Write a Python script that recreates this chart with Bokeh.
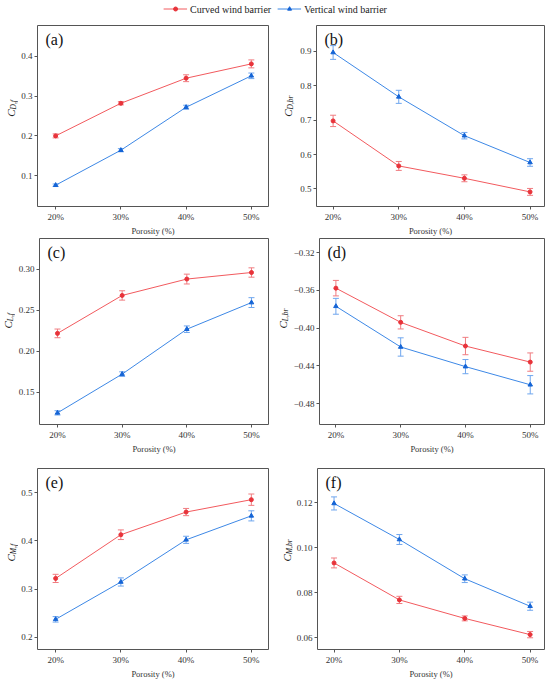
import math
from bokeh.plotting import figure
from bokeh.models import (Range1d, FixedTicker, Whisker, TeeHead, ColumnDataSource,
                          Label, Legend, LegendItem)
from bokeh.core.properties import value
from bokeh.layouts import column, row
from bokeh.embed import file_html
from bokeh.resources import INLINE

# ---------------- data ----------------
porosity = [20, 30, 40, 50]
porosity_labels = ["20%", "30%", "40%", "50%"]

# (a) C_D,f
cdf_curved = [0.200, 0.282, 0.345, 0.381]
cdf_curved_err = [0.005, 0.004, 0.0086, 0.010]
cdf_vertical = [0.076, 0.164, 0.272, 0.351]
cdf_vertical_err = [0.003, 0.004, 0.005, 0.007]
cdf_ticks = [0.1, 0.2, 0.3, 0.4]
cdf_tick_labels = ["0.1", "0.2", "0.3", "0.4"]

# (b) C_D,br
cdbr_curved = [0.698, 0.567, 0.531, 0.4915]
cdbr_curved_err = [0.0165, 0.013, 0.010, 0.010]
cdbr_vertical = [0.897, 0.768, 0.655, 0.577]
cdbr_vertical_err = [0.020, 0.019, 0.0094, 0.011]
cdbr_ticks = [0.5, 0.6, 0.7, 0.8, 0.9]
cdbr_tick_labels = ["0.5", "0.6", "0.7", "0.8", "0.9"]

# (c) C_L,f
clf_curved = [0.2217, 0.268, 0.288, 0.296]
clf_curved_err = [0.0053, 0.0057, 0.006, 0.0057]
clf_vertical = [0.1247, 0.172, 0.2268, 0.2593]
clf_vertical_err = [0.0026, 0.0028, 0.004, 0.006]
clf_ticks = [0.15, 0.20, 0.25, 0.30]
clf_tick_labels = ["0.15", "0.20", "0.25", "0.30"]

# (d) C_L,br
clbr_curved = [-0.3576, -0.3938, -0.4189, -0.4359]
clbr_curved_err = [0.0082, 0.007, 0.0092, 0.0097]
clbr_vertical = [-0.3768, -0.4199, -0.4407, -0.4599]
clbr_vertical_err = [0.0084, 0.0097, 0.0075, 0.0097]
clbr_ticks = [-0.48, -0.44, -0.40, -0.36, -0.32]
clbr_tick_labels = ["\u22120.48", "\u22120.44", "\u22120.40", "\u22120.36", "\u22120.32"]

# (e) C_M,f
cmf_curved = [0.3222, 0.413, 0.4601, 0.4858]
cmf_curved_err = [0.0085, 0.010, 0.0075, 0.0118]
cmf_vertical = [0.2372, 0.3148, 0.4024, 0.4522]
cmf_vertical_err = [0.0057, 0.0085, 0.0074, 0.0105]
cmf_ticks = [0.2, 0.3, 0.4, 0.5]
cmf_tick_labels = ["0.2", "0.3", "0.4", "0.5"]

# (f) C_M,br
cmbr_curved = [0.0932, 0.0768, 0.0686, 0.0614]
cmbr_curved_err = [0.0022, 0.0016, 0.0011, 0.0014]
cmbr_vertical = [0.1196, 0.1036, 0.0862, 0.0740]
cmbr_vertical_err = [0.0029, 0.0022, 0.0017, 0.0018]
cmbr_ticks = [0.06, 0.08, 0.10, 0.12]
cmbr_tick_labels = ["0.06", "0.08", "0.10", "0.12"]

series_names = ["Curved wind barrier", "Vertical wind barrier"]

# ---------------- style ----------------
FONT = "Liberation Serif"
RED_LINE = "#F25A5E"
RED_MARK = "#E8333A"
RED_ERR = "#F07C80"
BLUE_LINE = "#3D88E6"
BLUE_MARK = "#1464D6"
BLUE_ERR = "#6FA6EE"
FRAME = "#555555"
TICK_TXT = "#333333"
COL_W = 275


def label_fig(width, cx, heights, sub):
    top, frame_h, bottom = heights
    h = top + frame_h + bottom
    f = figure(width=width, height=h, x_range=Range1d(0, width), y_range=Range1d(0, h),
               output_backend="svg", toolbar_location=None,
               min_border_left=0, min_border_right=0, min_border_top=0,
               min_border_bottom=0)
    f.axis.visible = False
    f.grid.visible = False
    f.outline_line_color = None
    ya = bottom + frame_h / 2.0 - 1.5
    f.text(x=[cx], y=[ya], text=["C"], angle=math.pi / 2,
           text_font=value(FONT), text_font_size="11px", text_font_style="italic",
           text_color="#222222", text_align="right", text_baseline="middle")
    f.text(x=[cx + 2.5], y=[ya], text=[sub], angle=math.pi / 2,
           text_font=value(FONT), text_font_size="7.5px", text_font_style="italic",
           text_color="#222222", text_align="left", text_baseline="middle")
    return f


def make_panel(letter, sub, curved, curved_err, vertical, vertical_err,
               yr, yticks, ytick_labels, side, heights, lab_w, lab_cx, border_l):
    top, frame_h, bottom = heights
    if side == "left":
        br = 7
        xr = Range1d(17.22, 52.63)
    else:
        br = 6
        xr = Range1d(17.47, 52.2)
    w = COL_W - lab_w
    h = top + frame_h + bottom
    p = figure(width=w, height=h, x_range=xr, y_range=Range1d(*yr),
               output_backend="svg", toolbar_location=None,
               min_border_left=border_l, min_border_right=br,
               min_border_top=top, min_border_bottom=bottom)
    p.grid.visible = False
    p.outline_line_color = FRAME
    p.outline_line_width = 1

    for ax in (p.xaxis[0], p.yaxis[0]):
        ax.axis_line_color = None
        ax.major_tick_line_color = FRAME
        ax.major_tick_line_width = 1
        ax.minor_tick_line_color = None
        ax.major_tick_out = 3
        ax.major_tick_in = 0
        ax.minor_tick_out = 0
        ax.minor_tick_in = 0
        ax.major_label_text_font = FONT
        ax.major_label_text_font_size = "9px"
        ax.major_label_text_color = TICK_TXT
        ax.major_label_standoff = 2

    p.xaxis.ticker = FixedTicker(ticks=porosity)
    p.xaxis.major_label_overrides = {k: v for k, v in zip(porosity, porosity_labels)}
    p.xaxis.axis_label = "Porosity (%)"
    p.xaxis.axis_label_text_font = FONT
    p.xaxis.axis_label_text_font_size = "8.5px"
    p.xaxis.axis_label_text_font_style = "normal"
    p.xaxis.axis_label_text_color = TICK_TXT
    p.xaxis.axis_label_standoff = 1

    p.yaxis.ticker = FixedTicker(ticks=yticks)
    p.yaxis.major_label_overrides = {k: v for k, v in zip(yticks, ytick_labels)}

    for vals, errs, lc, mc, ec, marker, ms in (
            (curved, curved_err, RED_LINE, RED_MARK, RED_ERR, "circle", 4),
            (vertical, vertical_err, BLUE_LINE, BLUE_MARK, BLUE_ERR, "triangle", 4.5)):
        src = ColumnDataSource(dict(
            x=porosity, y=vals,
            upper=[v + e for v, e in zip(vals, errs)],
            lower=[v - e for v, e in zip(vals, errs)]))
        wk = Whisker(base="x", upper="upper", lower="lower", source=src,
                     line_color=ec, line_width=1,
                     upper_head=TeeHead(size=6, line_color=ec, line_width=1),
                     lower_head=TeeHead(size=6, line_color=ec, line_width=1))
        p.add_layout(wk)
        p.line("x", "y", source=src, line_color=lc, line_width=1)
        p.scatter("x", "y", source=src, marker=marker, size=ms,
                  fill_color=mc, line_color=mc)

    # panel letter (top-left inside the frame)
    p.add_layout(Label(x=8, y=yr[1], x_units="screen", y_units="data", y_offset=-5,
                       text=letter, text_font=FONT, text_font_size="16px",
                       text_color="#111111", text_align="left",
                       text_baseline="top"))
    return row(label_fig(lab_w, lab_cx, heights, sub), p)


row1 = (8, 186, 27)
row2 = (0, 191, 27)
row3 = (12, 186, 27)

pa = make_panel("(a)", "D,f", cdf_curved, cdf_curved_err, cdf_vertical, cdf_vertical_err,
                (0.0225, 0.4775), cdf_ticks, cdf_tick_labels, "left", row1, 18, 10.5, 17)
pb = make_panel("(b)", "D,br", cdbr_curved, cdbr_curved_err, cdbr_vertical, cdbr_vertical_err,
                (0.449, 0.9755), cdbr_ticks, cdbr_tick_labels, "right", row1, 22, 12, 18)
pc = make_panel("(c)", "L,f", clf_curved, clf_curved_err, clf_vertical, clf_vertical_err,
                (0.1105, 0.3375), clf_ticks, clf_tick_labels, "left", row2, 15, 7.5, 21)
pd = make_panel("(d)", "L,br", clbr_curved, clbr_curved_err, clbr_vertical, clbr_vertical_err,
                (-0.502, -0.305), clbr_ticks, clbr_tick_labels, "right", row2, 15, 7.5, 25)
pe = make_panel("(e)", "M,f", cmf_curved, cmf_curved_err, cmf_vertical, cmf_vertical_err,
                (0.1745, 0.5506), cmf_ticks, cmf_tick_labels, "left", row3, 18, 10.5, 18)
pf = make_panel("(f)", "M,br", cmbr_curved, cmbr_curved_err, cmbr_vertical, cmbr_vertical_err,
                (0.0548, 0.1351), cmbr_ticks, cmbr_tick_labels, "right", row3, 18, 11, 22)

# ---------------- legend strip ----------------
nan = float("nan")
lg = figure(width=2 * COL_W, height=17, x_range=Range1d(0, 1), y_range=Range1d(0, 1),
            output_backend="svg", toolbar_location=None,
            min_border_left=0, min_border_right=0, min_border_top=0, min_border_bottom=0)
lg.axis.visible = False
lg.grid.visible = False
lg.outline_line_color = None
r1 = lg.line([nan], [nan], line_color=RED_LINE, line_width=1)
r1m = lg.scatter([nan], [nan], marker="circle", size=5, fill_color=RED_MARK,
                 line_color=RED_MARK)
r2 = lg.line([nan], [nan], line_color=BLUE_LINE, line_width=1)
r2m = lg.scatter([nan], [nan], marker="triangle", size=5, fill_color=BLUE_MARK,
                 line_color=BLUE_MARK)
legend = Legend(items=[LegendItem(label=series_names[0], renderers=[r1, r1m]),
                       LegendItem(label=series_names[1], renderers=[r2, r2m])],
                orientation="horizontal", location="center",
                label_text_font=FONT, label_text_font_size="10px",
                label_text_color="#222222",
                glyph_width=24, glyph_height=10, label_height=10,
                label_standoff=3, spacing=6, padding=0, margin=0,
                border_line_color=None, background_fill_alpha=0)
lg.add_layout(legend, "center")

layout = column(lg, row(pa, pb), row(pc, pd), row(pe, pf))

open("out.html", "w").write(file_html(layout, INLINE))
